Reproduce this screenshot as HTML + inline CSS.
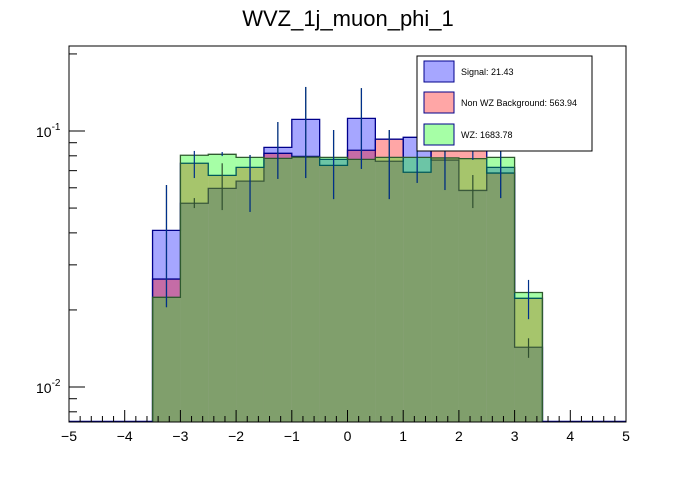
<!DOCTYPE html>
<html><head><meta charset="utf-8"><style>
body{margin:0;background:#fff;}
svg text{font-family:"Liberation Sans",Arial,sans-serif;}
</style></head><body>
<svg id="c" width="696" height="472" xmlns="http://www.w3.org/2000/svg">
<rect width="696" height="472" fill="#fff"/>
<text x="348" y="26" font-size="22" text-anchor="middle">WVZ_1j_muon_phi_1</text>
<g id="plot"></g>
<g id="axes"></g>
<g>
<rect x="417" y="56" width="175" height="95" fill="#fff" stroke="#000" stroke-width="1"/>
<rect x="424" y="61" width="30" height="21" fill="rgb(166,166,255)" stroke="#00008b"/>
<text x="461" y="75" font-size="9">Signal: 21.43</text>
<rect x="424" y="92" width="30" height="21" fill="rgb(255,166,166)" stroke="#00008b"/>
<text x="461" y="106" font-size="9">Non WZ Background: 563.94</text>
<rect x="424" y="124" width="30" height="21" fill="rgb(166,255,166)" stroke="#00008b"/>
<text x="461" y="138" font-size="9">WZ: 1683.78</text>
</g>
</svg>
<script>
const binEdgesStart = -3.5, binWidth = 0.5;
const signal = [0.0409,0.0522,0.0597,0.0637,0.0863,0.111,0.0775,0.112,0.0762,0.0945,0.077,0.0586,0.0721,0.0143];
const nonWZ  = [0.0264,0.0748,0.0671,0.0721,0.0818,0.0796,0.0734,0.0841,0.0929,0.069,0.092,0.088,0.0685,0.0222];
const wz     = [0.0224,0.0804,0.0811,0.0789,0.0782,0.0790,0.0789,0.0775,0.0789,0.0789,0.0785,0.078,0.0789,0.0234];
const errA_lo = [0.0205,0.0655,0.0798,0.0483,0.065,0.0655,0.0542,0.0711,0.0542,0.0627,0.0588,0.0771,0.0547,0.0184];
const errA_hi = [0.0615,0.0836,0.0828,0.0806,0.1084,0.1486,0.1009,0.147,0.1009,0.0922,0.0922,0.0836,0.0836,0.0262];
const errB_lo = [0.0205,0.05,0.0491,0.0483,0.065,0.0655,0.0542,0.0711,0.0542,0.0627,0.0588,0.05,0.0547,0.013];
const errB_hi = [0.0615,0.0547,0.0748,0.0806,0.1084,0.1486,0.1009,0.147,0.1009,0.0922,0.0922,0.0673,0.0836,0.0155];
const xTicks = [-5,-4,-3,-2,-1,0,1,2,3,4,5];

const X0=69,X1=626,Y0=46,Y1=422;
const sx=v=>X0+(v+5)/10*(X1-X0);
const sy=v=>131-(Math.log10(v)+1)*256;
const NS="http://www.w3.org/2000/svg";
const plot=document.getElementById('plot'), axes=document.getElementById('axes');
function mk(tag,attrs,parent){const e=document.createElementNS(NS,tag);for(const k in attrs)e.setAttribute(k,attrs[k]);parent.appendChild(e);return e;}
function hist(vals,fill,stroke,name){
  const g=mk('g',{},plot);
  
  
  vals.forEach((v,i)=>{
    const xa=sx(binEdgesStart+i*binWidth), xb=sx(binEdgesStart+(i+1)*binWidth), y=Math.max(sy(v),Y0);
    const r=mk('rect',{x:xa,y:y,width:xb-xa,height:Y1-y,fill:fill},g);
    
    
  });
  let d='M'+sx(binEdgesStart)+','+Y1;
  vals.forEach((v,i)=>{const y=Math.max(sy(v),Y0);d+=' L'+sx(binEdgesStart+i*binWidth)+','+y+' L'+sx(binEdgesStart+(i+1)*binWidth)+','+y;});
  d+=' L'+sx(binEdgesStart+vals.length*binWidth)+','+Y1;
  const p=mk('path',{d:d,fill:'none',stroke:stroke,'stroke-width':1.3},g);
  
  
}
hist(signal,'rgba(0,0,255,0.35)','#00008b','signal-hist');
hist(nonWZ,'rgba(255,0,0,0.35)','#00008b','nonwz-hist');
hist(wz,'rgba(0,255,0,0.35)','#2f5a2f','wz-hist');
mk('line',{x1:X0,y1:Y1-0.5,x2:sx(-3.5),y2:Y1-0.5,stroke:'#00008b','stroke-width':1.5},plot);
mk('line',{x1:sx(3.5),y1:Y1-0.5,x2:X1,y2:Y1-0.5,stroke:'#00008b','stroke-width':1.5},plot);
function errs(lo,hi,col,name){
  lo.forEach((l,i)=>{
    const xc=sx(binEdgesStart+(i+0.5)*binWidth);
    const e=mk('line',{x1:xc,x2:xc,y1:sy(hi[i]),y2:sy(l),stroke:col,'stroke-width':1.2},plot);
    
    
  });
}
errs(errB_lo,errB_hi,'#2f4f2f','wz-error-bar');
errs(errA_lo,errA_hi,'#00308b','signal-error-bar');
mk('rect',{x:X0,y:Y0,width:X1-X0,height:Y1-Y0,fill:'none',stroke:'#000','stroke-width':1},axes);
for(let k=0;k<=50;k++){const v=-5+k*0.2;const x=sx(v);const major=(k%5===0);
  mk('line',{x1:x,x2:x,y1:Y1,y2:Y1-(major?12:6),stroke:'#000','stroke-width':1},axes);}
xTicks.forEach(v=>{const t=mk('text',{x:sx(v),y:Y1+19,'font-size':14,'text-anchor':'middle'},axes);t.textContent=(v<0?'\u2212':'')+Math.abs(v);
  
  });
[0.008,0.009,0.01,0.02,0.03,0.04,0.05,0.06,0.07,0.08,0.09,0.1,0.2].forEach(v=>{
  const y=sy(v);const major=(v===0.01||v===0.1);
  mk('line',{x1:X0,x2:X0+(major?16:8),y1:y,y2:y,stroke:'#000','stroke-width':1},axes);});
[[0.1,'-1'],[0.01,'-2']].forEach(([v,e])=>{
  const t=mk('text',{x:36,y:sy(v)+6,'font-size':14},axes);
  
  
  t.textContent='10';
  const s=mk('tspan',{dy:-7,'font-size':10},t);s.textContent=e;
});
</script>
</body></html>
